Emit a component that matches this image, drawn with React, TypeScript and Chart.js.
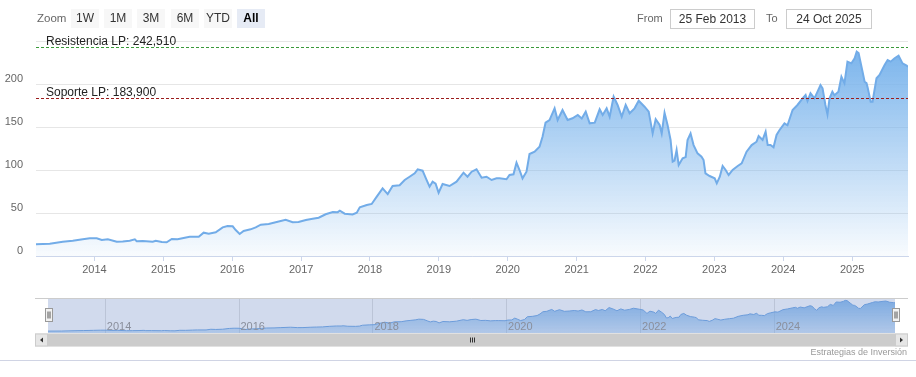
import React, { useEffect, useRef } from 'react';
import { Chart, registerables } from 'chart.js';

Chart.register(...registerables);

const FONT = '"Liberation Sans", Arial, Helvetica, sans-serif';

const startDate = '2013-02-25';
const endDate = '2025-10-24';

const dates = [
  '2013-02-25', '2013-05-09', '2013-07-17', '2013-09-08', '2013-10-31', '2013-12-07',
  '2014-01-13', '2014-02-09', '2014-03-13', '2014-04-29', '2014-05-31', '2014-07-07', '2014-08-03', '2014-08-13', '2014-09-14', '2014-11-06', '2014-11-22', '2014-12-24',
  '2015-01-19', '2015-02-15', '2015-03-18', '2015-04-25', '2015-05-21', '2015-07-08', '2015-08-03', '2015-08-30', '2015-10-06', '2015-11-12', '2015-12-08',
  '2016-01-04', '2016-01-20', '2016-02-10', '2016-03-02', '2016-04-08', '2016-05-05', '2016-06-01', '2016-07-13', '2016-08-19', '2016-10-11', '2016-11-17', '2016-12-18',
  '2017-01-26', '2017-03-03', '2017-04-04', '2017-05-11', '2017-06-18', '2017-07-14', '2017-07-25', '2017-08-20', '2017-10-01', '2017-10-23', '2017-11-08', '2017-12-15',
  '2018-01-10', '2018-02-06', '2018-03-09', '2018-04-05', '2018-05-01', '2018-06-07', '2018-07-04', '2018-07-30', '2018-08-26', '2018-09-11', '2018-10-07', '2018-10-28', '2018-11-13', '2018-11-29', '2018-12-15', '2018-12-31',
  '2019-01-21', '2019-02-27', '2019-04-05', '2019-05-12', '2019-06-02', '2019-06-24', '2019-07-20', '2019-08-16', '2019-09-11', '2019-10-08', '2019-11-03', '2019-11-19', '2019-12-26',
  '2020-01-11', '2020-02-01', '2020-02-17', '2020-03-04', '2020-03-20', '2020-04-10', '2020-04-26', '2020-05-23', '2020-06-18', '2020-07-04', '2020-07-20', '2020-08-10', '2020-09-06', '2020-09-22', '2020-10-18', '2020-11-14', '2020-12-10',
  '2021-01-07', '2021-01-28', '2021-02-18', '2021-03-11', '2021-04-07', '2021-05-03', '2021-05-19', '2021-06-09', '2021-06-25', '2021-07-16', '2021-08-06', '2021-08-28', '2021-09-18', '2021-10-09', '2021-11-04', '2021-11-26', '2021-12-27',
  '2022-01-18', '2022-02-08', '2022-02-24', '2022-03-17', '2022-03-28', '2022-04-12', '2022-04-28', '2022-05-14', '2022-05-25', '2022-06-04', '2022-06-15', '2022-06-26', '2022-07-17', '2022-08-02', '2022-08-12', '2022-08-28', '2022-09-13', '2022-10-04', '2022-10-25', '2022-11-05', '2022-11-15', '2022-12-07',
  '2023-01-03', '2023-01-14', '2023-01-30', '2023-02-14', '2023-03-02', '2023-03-18', '2023-04-08', '2023-05-05', '2023-05-26', '2023-06-21', '2023-07-18', '2023-08-13', '2023-08-24', '2023-09-14', '2023-09-30', '2023-10-11', '2023-10-26', '2023-11-11', '2023-11-27', '2023-12-13',
  '2024-01-08', '2024-01-24', '2024-02-20', '2024-03-17', '2024-04-13', '2024-04-29', '2024-05-09', '2024-05-25', '2024-06-15', '2024-07-17', '2024-07-28', '2024-08-12', '2024-08-23', '2024-09-03', '2024-09-18', '2024-09-29', '2024-10-20', '2024-11-05', '2024-11-21', '2024-12-07', '2024-12-28',
  '2025-01-14', '2025-01-25', '2025-02-04', '2025-02-25', '2025-03-08', '2025-03-18', '2025-03-24', '2025-04-09', '2025-04-19', '2025-05-10', '2025-05-26', '2025-06-22', '2025-07-08', '2025-07-24', '2025-08-14', '2025-09-04', '2025-09-25', '2025-10-17', '2025-10-24',
];

const prices = [
  13.8, 14.3, 16.6, 17.8, 19.4, 20.5,
  20.5, 18.6, 19.4, 16.6, 17.0, 17.8, 19.4, 17.2, 17.4, 16.6, 17.8, 16.3,
  15.9, 19.8, 19.4, 21.3, 22.4, 22.4, 27.1, 25.9, 27.5, 33.3, 34.9,
  34.5, 30.2, 25.6, 29.1, 31.0, 33.3, 36.4, 37.2, 39.2, 42.2, 39.2, 39.5,
  41.9, 43.4, 44.5, 48.5, 51.2, 51.0, 52.7, 49.2, 48.4, 50.4, 56.6, 59.3,
  60.5, 69.0, 78.7, 72.0, 81.4, 82.2, 88.4, 92.2, 96.1, 100.8, 99.2, 88.4, 80.6, 86.4, 84.0, 73.6,
  83.7, 81.4, 86.4, 96.9, 92.2, 98.0, 100.8, 91.0, 92.2, 88.4, 90.3, 90.3, 89.2,
  94.2, 95.0, 108.5, 100.0, 90.3, 98.0, 118.6, 121.3, 127.1, 138.7, 155.0, 158.1, 171.7, 158.1, 169.8, 158.1, 160.1,
  164.0, 160.0, 167.8, 154.3, 155.0, 170.6, 164.0, 171.7, 162.0, 185.2, 175.6, 162.0, 175.6, 166.0, 171.7, 180.6, 173.6,
  167.8, 142.6, 159.0, 152.3, 142.6, 166.6, 152.3, 134.9, 109.7, 111.0, 123.3, 105.8, 113.6, 115.0, 134.9, 142.6, 129.0, 119.4, 115.5, 111.6, 96.1, 93.0,
  90.3, 84.5, 92.2, 104.7, 100.0, 94.2, 100.0, 104.7, 107.8, 121.3, 129.0, 132.9, 139.5, 135.0, 144.5, 129.0, 129.0, 126.4, 140.7, 146.5,
  154.3, 152.0, 169.8, 175.6, 183.3, 187.2, 180.2, 189.2, 183.3, 198.8, 195.0, 175.6, 164.7, 183.3, 191.0, 187.0, 191.0, 208.5, 200.8, 226.0, 224.0,
  229.9, 237.6, 236.0, 214.3, 202.7, 201.0, 196.0, 179.4, 179.4, 206.6, 210.5, 222.0, 227.9, 226.0, 229.9, 232.9, 224.0, 221.3, 220.0,
];

const yearTicks = [2014, 2015, 2016, 2017, 2018, 2019, 2020, 2021, 2022, 2023, 2024, 2025];
const navigatorYearTicks = [2014, 2016, 2018, 2020, 2022, 2024];
const yTicks = [0, 50, 100, 150, 200, 250];
const yMax = 250;

const levelNames = ['Resistencia LP', 'Soporte LP'];
const levelValues = [242.51, 183.9];
const levelColors = ['#3a9a3a', '#9b1c1c'];

const rangeButtons = ['1W', '1M', '3M', '6M', 'YTD', 'All'];
const selectedButton = 'All';
const zoomLabel = 'Zoom';
const fromText = 'From';
const toText = 'To';
const fromDate = '25 Feb 2013';
const toDate = '24 Oct 2025';
const creditText = 'Estrategias de Inversión';

function toMs(s: string) {
  const [y, m, d] = s.split('-').map(Number);
  return Date.UTC(y, m - 1, d);
}

function fmtLevel(v: number) {
  return v.toFixed(3).replace('.', ',');
}

export default function App() {
  const mainRef = useRef<HTMLCanvasElement>(null);
  const navRef = useRef<HTMLCanvasElement>(null);

  useEffect(() => {
    document.body.style.margin = '0';
    const xMin = toMs(startDate);
    const xMax = toMs(endDate);
    const pts = dates.map((d, i) => ({ x: toMs(d), y: prices[i] }));
    const maxPrice = Math.max(...prices);

    const levelPlugin = {
      id: 'levels',
      afterDatasetsDraw(chart: any) {
        const { ctx, chartArea: ca, scales } = chart;
        const ys = scales.y;
        levelValues.forEach((v, i) => {
          const py = Math.round(ys.getPixelForValue(v)) + 0.5;
          ctx.save();
          ctx.strokeStyle = levelColors[i];
          ctx.lineWidth = 1;
          ctx.setLineDash([3, 2]);
          ctx.beginPath();
          ctx.moveTo(ca.left, py);
          ctx.lineTo(ca.right, py);
          ctx.stroke();
          ctx.setLineDash([]);
          ctx.fillStyle = '#222';
          ctx.font = '12px ' + FONT;
          ctx.textBaseline = 'alphabetic';
          ctx.textAlign = 'left';
          ctx.fillText(levelNames[i] + ': ' + fmtLevel(v), ca.left + 10, py - 3);
          ctx.restore();
        });
      },
    };

    const main = new Chart(mainRef.current!, {
      type: 'line',
      data: {
        datasets: [
          {
            data: pts,
            borderColor: '#72ace8',
            borderWidth: 2,
            pointRadius: 0,
            tension: 0,
            fill: 'start',
            backgroundColor: (c: any) => {
              const ch = c.chart;
              const ca = ch.chartArea;
              if (!ca) return 'rgba(124,181,236,0.5)';
              const top = ch.scales.y.getPixelForValue(maxPrice);
              const g = ch.ctx.createLinearGradient(0, top, 0, ca.bottom);
              g.addColorStop(0, 'rgba(124,181,236,1)');
              g.addColorStop(1, 'rgba(124,181,236,0.05)');
              return g;
            },
          },
        ],
      },
      options: {
        responsive: false,
        devicePixelRatio: 1,
        animation: false,
        events: [],
        layout: { padding: { top: 41, right: 8, left: 0, bottom: 0 } },
        plugins: { legend: { display: false }, tooltip: { enabled: false } },
        scales: {
          x: {
            type: 'linear',
            min: xMin,
            max: xMax,
            afterBuildTicks: (s: any) => {
              s.ticks = yearTicks.map((y) => ({ value: Date.UTC(y, 0, 1) }));
            },
            afterFit: (s: any) => {
              s.height = 34;
            },
            ticks: {
              callback: (v: any) => String(new Date(v).getUTCFullYear()),
              color: '#666',
              font: { size: 11, family: FONT },
              maxRotation: 0,
              autoSkip: false,
              padding: 2,
            },
            grid: { display: true, drawOnChartArea: false, drawTicks: true, tickLength: 5, color: '#ccd6eb' },
            border: { display: true, color: '#ccd6eb' },
          },
          y: {
            min: 0,
            max: yMax,
            afterBuildTicks: (s: any) => {
              s.ticks = yTicks.map((v) => ({ value: v }));
            },
            afterFit: (s: any) => {
              s.width = 36;
            },
            ticks: {
              callback: (v: any) => (v === yMax ? '' : String(v)),
              color: '#666',
              font: { size: 11, family: FONT },
              padding: 13,
              labelOffset: -5,
            },
            grid: { color: '#e6e6e6', drawTicks: false },
            border: { display: false },
          },
        },
      },
      plugins: [levelPlugin],
    } as any);

    const navPlugin = {
      id: 'nav',
      beforeDatasetsDraw(chart: any) {
        const { ctx, chartArea: ca, scales } = chart;
        ctx.save();
        ctx.strokeStyle = '#e0e0e0';
        ctx.lineWidth = 1;
        navigatorYearTicks.forEach((yr) => {
          const px = Math.round(scales.x.getPixelForValue(Date.UTC(yr, 0, 1))) + 0.5;
          ctx.beginPath();
          ctx.moveTo(px, ca.top);
          ctx.lineTo(px, ca.bottom);
          ctx.stroke();
        });
        ctx.restore();
      },
      afterDatasetsDraw(chart: any) {
        const { ctx, chartArea: ca, scales } = chart;
        ctx.save();
        ctx.fillStyle = 'rgba(102,133,194,0.3)';
        ctx.fillRect(ca.left, ca.top, ca.right - ca.left, ca.bottom - ca.top);
        ctx.fillStyle = '#8a8f9c';
        ctx.font = '11px ' + FONT;
        ctx.textBaseline = 'middle';
        ctx.textAlign = 'left';
        navigatorYearTicks.forEach((yr) => {
          const px = scales.x.getPixelForValue(Date.UTC(yr, 0, 1));
          ctx.fillText(String(yr), px + 2, ca.top + 29);
        });
        ctx.strokeStyle = '#cccccc';
        ctx.beginPath();
        ctx.moveTo(35, ca.top + 0.5);
        ctx.lineTo(908, ca.top + 0.5);
        ctx.stroke();
        const sy = ca.bottom + 0.5;
        const sh = 13;
        ctx.fillStyle = '#f2f2f2';
        ctx.fillRect(35, sy, 873, sh);
        ctx.fillStyle = '#cccccc';
        ctx.fillRect(ca.left, sy, ca.right - ca.left, sh);
        [35, ca.right].forEach((bx, i) => {
          ctx.fillStyle = '#e6e6e6';
          ctx.fillRect(bx, sy, 13, sh);
          ctx.strokeStyle = '#cccccc';
          ctx.strokeRect(bx + 0.5, sy + 0.5, 12, sh - 1);
          ctx.fillStyle = '#333';
          const cx = bx + 6.5;
          const cy = sy + sh / 2;
          ctx.beginPath();
          if (i === 0) {
            ctx.moveTo(cx - 1.5, cy);
            ctx.lineTo(cx + 1.5, cy - 2.5);
            ctx.lineTo(cx + 1.5, cy + 2.5);
          } else {
            ctx.moveTo(cx + 1.5, cy);
            ctx.lineTo(cx - 1.5, cy - 2.5);
            ctx.lineTo(cx - 1.5, cy + 2.5);
          }
          ctx.closePath();
          ctx.fill();
        });
        const gx = Math.round((ca.left + ca.right) / 2);
        ctx.strokeStyle = '#333';
        ctx.lineWidth = 1;
        [-2, 0, 2].forEach((o) => {
          ctx.beginPath();
          ctx.moveTo(gx + o + 0.5, sy + 4);
          ctx.lineTo(gx + o + 0.5, sy + sh - 4);
          ctx.stroke();
        });
        [ca.left, ca.right].forEach((hx) => {
          const x0 = Math.round(hx - 3.5) + 0.5;
          const y0 = ca.top + 10.5;
          ctx.fillStyle = '#f2f2f2';
          ctx.fillRect(x0, y0, 7, 13);
          ctx.strokeStyle = '#999999';
          ctx.strokeRect(x0, y0, 7, 13);
          ctx.strokeStyle = '#555';
          [2, 4].forEach((o) => {
            ctx.beginPath();
            ctx.moveTo(x0 + o + 0.5, y0 + 3);
            ctx.lineTo(x0 + o + 0.5, y0 + 10);
            ctx.stroke();
          });
        });
        ctx.restore();
      },
    };

    const nav = new Chart(navRef.current!, {
      type: 'line',
      data: {
        datasets: [
          {
            data: pts,
            borderColor: '#6ea6e4',
            borderWidth: 1,
            pointRadius: 0,
            tension: 0,
            fill: 'start',
            backgroundColor: (c: any) => {
              const ch = c.chart;
              const ca = ch.chartArea;
              if (!ca) return 'rgba(124,181,236,0.6)';
              const g = ch.ctx.createLinearGradient(0, ca.top, 0, ca.bottom);
              g.addColorStop(0, 'rgba(124,181,236,0.95)');
              g.addColorStop(1, 'rgba(124,181,236,0.35)');
              return g;
            },
          },
        ],
      },
      options: {
        responsive: false,
        devicePixelRatio: 1,
        animation: false,
        events: [],
        layout: { padding: { top: 8, right: 21, left: 48, bottom: 27 } },
        plugins: { legend: { display: false }, tooltip: { enabled: false } },
        scales: {
          x: { type: 'linear', min: xMin, max: xMax, display: false },
          y: { min: 0, max: 255, display: false },
        },
      },
      plugins: [navPlugin],
    } as any);

    return () => {
      main.destroy();
      nav.destroy();
    };
  }, []);

  const btnLefts = [71, 104, 137, 171, 204, 237];

  return (
    <div style={{ position: 'absolute', left: 0, top: 0, width: 916, height: 377, background: '#fff', fontFamily: FONT, overflow: 'hidden' }}>
      <canvas ref={mainRef} width={916} height={290} style={{ position: 'absolute', left: 0, top: 0, display: 'block' }} />
      <canvas ref={navRef} width={916} height={70} style={{ position: 'absolute', left: 0, top: 290, display: 'block' }} />
      <div style={{ position: 'absolute', left: 37, top: 9, height: 19, lineHeight: '19px', fontSize: 11.5, color: '#666' }}>{zoomLabel}</div>
      {rangeButtons.map((b, i) => (
        <div
          key={b}
          style={{
            position: 'absolute',
            left: btnLefts[i],
            top: 9,
            width: 28,
            height: 19,
            lineHeight: '19px',
            textAlign: 'center',
            fontSize: 12,
            background: b === selectedButton ? '#e6ebf5' : '#f7f7f7',
            color: b === selectedButton ? '#000' : '#333',
            fontWeight: b === selectedButton ? 'bold' : 'normal',
          }}
        >
          {b}
        </div>
      ))}
      <div style={{ position: 'absolute', left: 637, top: 9, height: 19, lineHeight: '19px', fontSize: 11, color: '#666' }}>{fromText}</div>
      <div style={{ position: 'absolute', left: 670, top: 9, width: 83, height: 18, lineHeight: '18px', border: '1px solid #cccccc', textAlign: 'center', fontSize: 12, color: '#333' }}>{fromDate}</div>
      <div style={{ position: 'absolute', left: 766, top: 9, height: 19, lineHeight: '19px', fontSize: 11, color: '#666' }}>{toText}</div>
      <div style={{ position: 'absolute', left: 786, top: 9, width: 84, height: 18, lineHeight: '18px', border: '1px solid #cccccc', textAlign: 'center', fontSize: 12, color: '#333' }}>{toDate}</div>
      <div style={{ position: 'absolute', right: 9, top: 346, height: 12, lineHeight: '12px', fontSize: 9, color: '#999' }}>{creditText}</div>
      <div style={{ position: 'absolute', left: 0, top: 360, width: 916, height: 1, background: '#d0d4e4' }} />
    </div>
  );
}
